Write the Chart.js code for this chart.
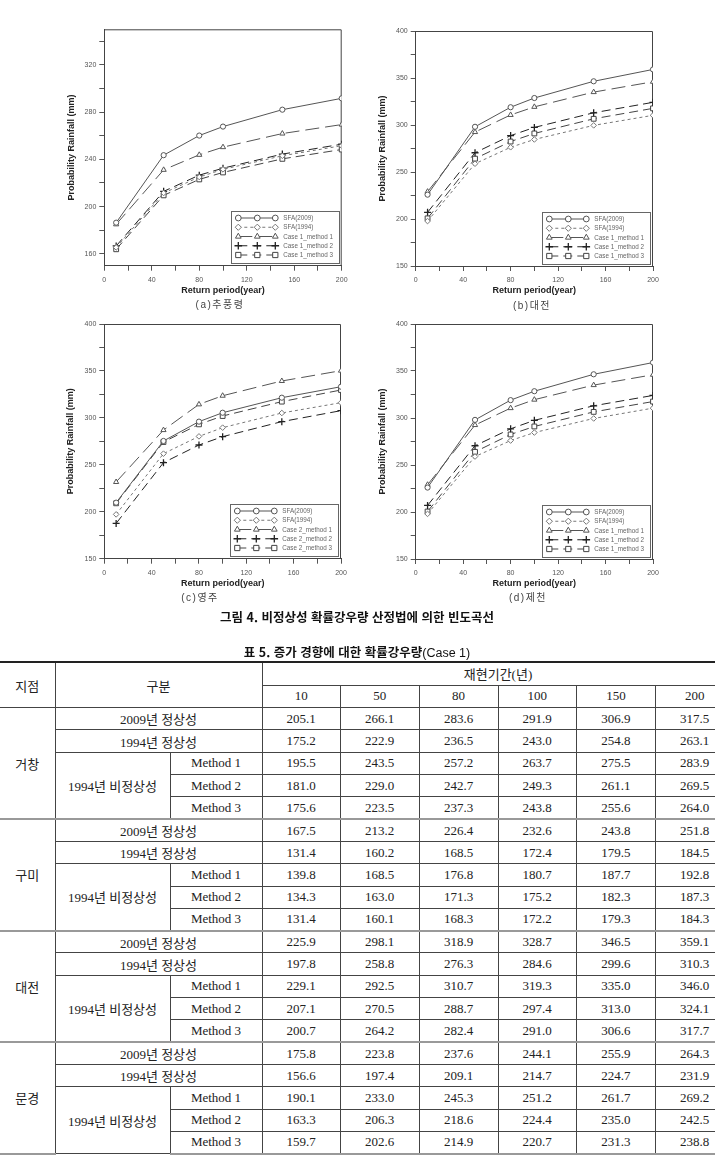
<!DOCTYPE html>
<html lang="ko">
<head>
<meta charset="utf-8">
<title>비정상성 확률강우량 빈도곡선</title>
<script src="https://cdn.jsdelivr.net/npm/chart.js@4.4.0/dist/chart.umd.min.js"></script>
<style>
  html, body { margin: 0; padding: 0; background: #fff; }
  body { position: relative; width: 715px; height: 1165px; overflow: hidden; font-family: "Liberation Sans", "Noto Sans CJK KR", sans-serif; }
  .plot { position: absolute; }
  .sub { position: absolute; transform: translate(-50%, -50%); font-size: 10px; color: #444; white-space: nowrap; letter-spacing: 1.5px; }
  .cap { position: absolute; left: 357px; transform: translate(-50%, -50%); white-space: nowrap; color: #111; font-family: "Noto Sans CJK KR", sans-serif; }
  #tbl { position: absolute; left: 0; top: 661px; border-collapse: collapse; table-layout: fixed; width: 734px;
         font-family: "Liberation Serif", "Noto Sans CJK KR", serif; font-size: 13px; color: #222; }
  #tbl td { border: 1px solid #444; text-align: center; padding: 0; }
  #tbl tr { height: 22.3px; }
  #tbl tr.h1 td { border-top: 2px solid #222; }
  #tbl td.first { border-left: none; }
  #tbl tr.grp td { border-top: 2px solid #999; }
  #tbl tr.last td, #tbl td.stn { border-bottom: 2px solid #999; }
</style>
</head>
<body>
<canvas id="chartA" class="plot" width="300" height="296" style="left:60px;top:0px"></canvas>
<canvas id="chartB" class="plot" width="300" height="296" style="left:370px;top:0px"></canvas>
<canvas id="chartC" class="plot" width="300" height="279" style="left:60px;top:310px"></canvas>
<canvas id="chartD" class="plot" width="300" height="279" style="left:370px;top:310px"></canvas>

<div class="sub" style="left:220px;top:303px">(a)추풍령</div>
<div class="sub" style="left:532px;top:304px">(b)대전</div>
<div class="sub" style="left:200px;top:596px">(c)영주</div>
<div class="sub" style="left:528px;top:596px">(d)제천</div>

<div class="cap" style="top:616px;font-size:12.5px;font-weight:bold">그림 4. 비정상성 확률강우량 산정법에 의한 빈도곡선</div>
<div class="cap" style="top:651px;font-size:12.5px"><b>표 5. 증가 경향에 대한 확률강우량</b><span style="font-family:'Liberation Sans'">(Case 1)</span></div>

<table id="tbl"></table>

<script>
// ---- chart data ----
const returnPeriods = [10, 50, 80, 100, 150, 200];
const xTicks = [0, 20, 40, 60, 80, 100, 120, 140, 160, 180, 200];
const xLabelTicks = [0, 40, 80, 120, 160, 200];
const yTicksA = [160, 180, 200, 220, 240, 260, 280, 300, 320, 340];
const yLabelTicksA = [160, 200, 240, 280, 320];
const yTicksB = [150, 175, 200, 225, 250, 275, 300, 325, 350, 375, 400];
const yLabelTicksB = [150, 200, 250, 300, 350, 400];

const case1Labels = ['SFA(2009)', 'SFA(1994)', 'Case 1_method 1', 'Case 1_method 2', 'Case 1_method 3'];
const case2Labels = ['SFA(2009)', 'SFA(1994)', 'Case 2_method 1', 'Case 2_method 2', 'Case 2_method 3'];

// (a) 추풍령
const chupungSfa2009 = [186.4, 243.5, 260.1, 267.7, 282.0, 291.6];
const chupungSfa1994 = [165.5, 211.5, 225.0, 231.5, 243.0, 251.5];
const chupungMethod1 = [185.0, 231.1, 243.8, 250.3, 261.8, 269.4];
const chupungMethod2 = [166.7, 212.9, 226.6, 232.5, 244.4, 252.8];
const chupungMethod3 = [163.9, 209.5, 223.0, 228.9, 240.4, 248.3];

// (b) 대전
const daejeonSfa2009 = [225.9, 298.1, 318.9, 328.7, 346.5, 359.1];
const daejeonSfa1994 = [197.8, 258.8, 276.3, 284.6, 299.6, 310.3];
const daejeonMethod1 = [229.1, 292.5, 310.7, 319.3, 335.0, 346.0];
const daejeonMethod2 = [207.1, 270.5, 288.7, 297.4, 313.0, 324.1];
const daejeonMethod3 = [200.7, 264.2, 282.4, 291.0, 306.6, 317.7];

// (c) 영주
const yeongjuSfa2009 = [209.7, 275.4, 296.0, 305.5, 321.5, 333.2];
const yeongjuSfa1994 = [197.2, 261.9, 280.3, 289.6, 305.2, 316.2];
const yeongjuMethod1 = [231.7, 287.0, 314.4, 323.6, 339.3, 350.3];
const yeongjuMethod2 = [187.6, 252.3, 271.1, 280.0, 296.0, 307.7];
const yeongjuMethod3 = [209.0, 274.3, 293.1, 302.0, 317.3, 329.7];

// (d) 제천
const jecheonSfa2009 = [226.0, 298.0, 319.0, 328.5, 346.5, 359.0];
const jecheonSfa1994 = [198.0, 259.0, 276.0, 284.5, 299.5, 310.5];
const jecheonMethod1 = [229.0, 292.5, 310.5, 319.5, 335.0, 346.0];
const jecheonMethod2 = [207.0, 270.5, 288.5, 297.5, 313.0, 324.0];
const jecheonMethod3 = [200.5, 264.0, 282.5, 291.0, 306.5, 317.5];

// ---- table data (표 5) ----
const periodHeaders = [10, 50, 80, 100, 150, 200];
const stations = ['거창', '구미', '대전', '문경'];
const rowKinds = ['2009년 정상성', '1994년 정상성', 'Method 1', 'Method 2', 'Method 3'];
const geochangRows = [
  [205.1, 266.1, 283.6, 291.9, 306.9, 317.5],
  [175.2, 222.9, 236.5, 243.0, 254.8, 263.1],
  [195.5, 243.5, 257.2, 263.7, 275.5, 283.9],
  [181.0, 229.0, 242.7, 249.3, 261.1, 269.5],
  [175.6, 223.5, 237.3, 243.8, 255.6, 264.0],
];
const gumiRows = [
  [167.5, 213.2, 226.4, 232.6, 243.8, 251.8],
  [131.4, 160.2, 168.5, 172.4, 179.5, 184.5],
  [139.8, 168.5, 176.8, 180.7, 187.7, 192.8],
  [134.3, 163.0, 171.3, 175.2, 182.3, 187.3],
  [131.4, 160.1, 168.3, 172.2, 179.3, 184.3],
];
const daejeonRows = [
  [225.9, 298.1, 318.9, 328.7, 346.5, 359.1],
  [197.8, 258.8, 276.3, 284.6, 299.6, 310.3],
  [229.1, 292.5, 310.7, 319.3, 335.0, 346.0],
  [207.1, 270.5, 288.7, 297.4, 313.0, 324.1],
  [200.7, 264.2, 282.4, 291.0, 306.6, 317.7],
];
const mungyeongRows = [
  [175.8, 223.8, 237.6, 244.1, 255.9, 264.3],
  [156.6, 197.4, 209.1, 214.7, 224.7, 231.9],
  [190.1, 233.0, 245.3, 251.2, 261.7, 269.2],
  [163.3, 206.3, 218.6, 224.4, 235.0, 242.5],
  [159.7, 202.6, 214.9, 220.7, 231.3, 238.8],
];

// ---- series look ----
const seriesStyle = [
  { pointStyle: 'circle', dash: [], color: '#555', r: 2.6, bw: 1 },
  { pointStyle: 'rectRot', dash: [3, 3], color: '#777', r: 2.8, bw: 1 },
  { pointStyle: 'triangle', dash: [14, 6], color: '#555', r: 3, bw: 1 },
  { pointStyle: 'cross', dash: [9, 5], color: '#222', r: 3.5, bw: 1.3 },
  { pointStyle: 'rect', dash: [9, 5], color: '#444', r: 3.4, bw: 1 },
];

function buildDatasets(labels, series) {
  return series.map((vals, i) => {
    const s = seriesStyle[i];
    return {
      label: labels[i],
      data: vals.map((v, k) => ({ x: returnPeriods[k], y: v })),
      borderColor: s.color,
      borderWidth: 1,
      borderDash: s.dash,
      pointStyle: s.pointStyle,
      pointRadius: s.r,
      pointBorderWidth: s.bw,
      pointBorderColor: s.color,
      pointBackgroundColor: '#fff',
      tension: 0,
      fill: false,
    };
  });
}

/** Bordered legend box at the lower right, three markers per row. */
const boxLegend = {
  id: 'boxLegend',
  afterDatasetsDraw(chart) {
    const { ctx, chartArea: a } = chart;
    const w = 108, h = 52;
    const x0 = Math.round(a.right - 3 - w), y0 = Math.round(a.bottom - 2.5 - h);
    ctx.save();
    ctx.fillStyle = '#fff';
    ctx.fillRect(x0, y0, w, h);
    ctx.strokeStyle = '#666';
    ctx.lineWidth = 1;
    ctx.strokeRect(x0 + 0.5, y0 + 0.5, w, h);
    chart.data.datasets.forEach((ds, i) => {
      const y = y0 + 7 + i * 9.25;
      ctx.strokeStyle = ds.borderColor;
      ctx.lineWidth = 1;
      ctx.setLineDash(ds.borderDash || []);
      ctx.beginPath();
      ctx.moveTo(x0 + 7.3, y);
      ctx.lineTo(x0 + 44.3, y);
      ctx.stroke();
      ctx.setLineDash([]);
      [7.3, 26.3, 44.3].forEach((dx) => {
        ctx.fillStyle = '#fff';
        ctx.strokeStyle = ds.pointBorderColor;
        ctx.lineWidth = ds.pointBorderWidth;
        Chart.helpers.drawPoint(ctx, { pointStyle: ds.pointStyle, radius: ds.pointRadius + 0.3, borderWidth: ds.pointBorderWidth, rotation: 0 }, x0 + dx, y);
      });
      ctx.fillStyle = '#666';
      ctx.font = '6.3px "Liberation Sans"';
      ctx.textBaseline = 'middle';
      ctx.textAlign = 'left';
      ctx.fillText(ds.label, x0 + 52.3, y + 0.5);
    });
    ctx.restore();
  },
};

/** Closed frame: top and right edges of the plot box. */
const boxFrame = {
  id: 'boxFrame',
  beforeDatasetsDraw(chart) {
    const { ctx, chartArea: a } = chart;
    ctx.save();
    ctx.strokeStyle = '#444';
    ctx.lineWidth = 1;
    ctx.beginPath();
    ctx.moveTo(a.left, a.top + 0.5);
    ctx.lineTo(a.right - 0.5, a.top + 0.5);
    ctx.lineTo(a.right - 0.5, a.bottom);
    ctx.stroke();
    ctx.restore();
  },
};

function makeChart(id, geom, yRange, yTicks, yLabelTicks, labels, series) {
  const tickFont = { family: '"Liberation Sans"', size: 7 };
  const titleFont = { family: '"Liberation Sans"', size: 9, weight: 'bold' };
  new Chart(document.getElementById(id), {
    type: 'line',
    data: { datasets: buildDatasets(labels, series) },
    options: {
      responsive: false,
      devicePixelRatio: 1,
      animation: false,
      layout: { padding: { left: 0, top: geom.top, right: geom.width - geom.right, bottom: 0 } },
      plugins: { legend: { display: false }, tooltip: { enabled: false } },
      scales: {
        x: {
          type: 'linear',
          min: 0,
          max: 200,
          afterBuildTicks: (scale) => { scale.ticks = xTicks.map((v) => ({ value: v })); },
          afterFit: (scale) => { scale.height = geom.height - geom.bottom; },
          grid: { drawOnChartArea: false, drawTicks: true, tickLength: 5, color: '#555' },
          border: { display: true, color: '#444' },
          ticks: {
            autoSkip: false, maxRotation: 0, padding: 5, color: '#555', font: tickFont,
            callback: (v) => (xLabelTicks.includes(v) ? String(v) : ''),
          },
          title: { display: true, text: 'Return period(year)', color: '#222', font: titleFont, padding: { top: 0, bottom: 0.5 } },
        },
        y: {
          type: 'linear',
          min: yRange[0],
          max: yRange[1],
          afterBuildTicks: (scale) => { scale.ticks = yTicks.map((v) => ({ value: v })); },
          afterFit: (scale) => { scale.width = geom.left; },
          grid: { drawOnChartArea: false, drawTicks: true, tickLength: 5, color: '#555' },
          border: { display: true, color: '#444' },
          ticks: {
            autoSkip: false, padding: 3, color: '#555', font: tickFont,
            callback: (v) => (yLabelTicks.includes(v) ? String(v) : ''),
          },
          title: { display: true, text: 'Probability Rainfall (mm)', color: '#222', font: titleFont, padding: { top: geom.titleX - 5.4, bottom: 0 } },
        },
      },
    },
    plugins: [boxFrame, boxLegend],
  });
}

makeChart('chartA', { left: 44.3, top: 29.3, right: 281.7, bottom: 265.7, width: 300, height: 296, titleX: 12 },
  [150, 350], yTicksA, yLabelTicksA, case1Labels,
  [chupungSfa2009, chupungSfa1994, chupungMethod1, chupungMethod2, chupungMethod3]);
makeChart('chartB', { left: 45.7, top: 31, right: 283, bottom: 266, width: 300, height: 296, titleX: 12.7 },
  [150, 400], yTicksB, yLabelTicksB, case1Labels,
  [daejeonSfa2009, daejeonSfa1994, daejeonMethod1, daejeonMethod2, daejeonMethod3]);
makeChart('chartC', { left: 44.3, top: 14, right: 281, bottom: 248.7, width: 300, height: 279, titleX: 11 },
  [150, 400], yTicksB, yLabelTicksB, case2Labels,
  [yeongjuSfa2009, yeongjuSfa1994, yeongjuMethod1, yeongjuMethod2, yeongjuMethod3]);
makeChart('chartD', { left: 45.7, top: 14, right: 283, bottom: 249, width: 300, height: 279, titleX: 12.3 },
  [150, 400], yTicksB, yLabelTicksB, case1Labels,
  [jecheonSfa2009, jecheonSfa1994, jecheonMethod1, jecheonMethod2, jecheonMethod3]);

// ---- table ----
function renderTable() {
  const colWidths = [55, 115, 92, 78.4, 78.6, 79, 78.4, 79, 78.6];
  const stationRows = [geochangRows, gumiRows, daejeonRows, mungyeongRows];
  let html = '<colgroup>' + colWidths.map((w) => '<col style="width:' + w + 'px">').join('') + '</colgroup>';
  html += '<tr class="h1" style="height:23.3px"><td class="first" rowspan="2">지점</td><td colspan="2" rowspan="2">구분</td>' +
    '<td colspan="' + periodHeaders.length + '">재현기간(년)</td></tr>';
  html += '<tr style="height:22.4px">' + periodHeaders.map((p) => '<td>' + p + '</td>').join('') + '</tr>';
  stations.forEach((name, si) => {
    const rows = stationRows[si];
    rows.forEach((vals, ri) => {
      const cls = ri === 0 && si > 0 ? 'grp' : (si === stations.length - 1 && ri === rows.length - 1 ? 'last' : '');
      let tr = '<tr class="' + cls + '">';
      if (ri === 0) tr += '<td class="first stn" rowspan="' + rows.length + '">' + name + '</td>';
      if (ri < 2) tr += '<td colspan="2">' + rowKinds[ri] + '</td>';
      else {
        if (ri === 2) tr += '<td rowspan="3">1994년 비정상성</td>';
        tr += '<td>' + rowKinds[ri] + '</td>';
      }
      tr += vals.map((v) => '<td>' + v.toFixed(1) + '</td>').join('');
      html += tr + '</tr>';
    });
  });
  document.getElementById('tbl').innerHTML = html;
}
renderTable();
</script>
</body>
</html>
